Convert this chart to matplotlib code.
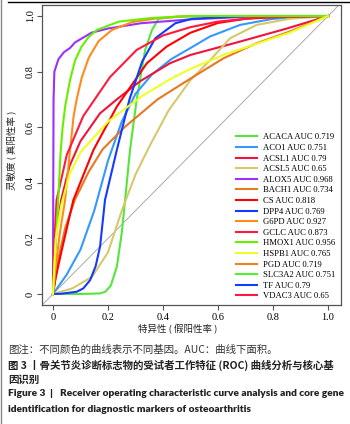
import matplotlib
matplotlib.use('Agg')
import matplotlib.pyplot as plt
from matplotlib.lines import Line2D

plt.rcParams['font.family'] = ['Liberation Serif', 'DejaVu Serif']
plt.rcParams['font.size'] = 7.5
plt.rcParams['axes.linewidth'] = 0.9

# genes in legend order
genes = ['ACACA', 'ACO1', 'ACSL1', 'ACSL5', 'ALOX5', 'BACH1', 'CS', 'DPP4',
         'G6PD', 'GCLC', 'HMOX1', 'HSPB1', 'PGD', 'SLC3A2', 'TF', 'VDAC3']
aucs = ['0.719', '0.751', '0.79', '0.65', '0.968', '0.734', '0.818', '0.769',
        '0.927', '0.873', '0.956', '0.765', '0.719', '0.751', '0.79', '0.65']
colors = ['#55E63A', '#3399FF', '#F0143C', '#D6C86C', '#9B30FF', '#E87722', '#FF0000', '#1439FF',
          '#FF8C1A', '#FF1A40', '#66F000', '#EEFF22', '#F0821E', '#55EE33', '#1040FF', '#FF1744']

# curves (fpr, tpr)
fpr_ACACA = [0, 0.10, 0.17, 0.19, 0.21, 0.232, 0.25, 0.262, 0.28, 0.304, 0.335, 0.36, 0.384, 0.45, 0.6, 1]
tpr_ACACA = [0, 0.0, 0.002, 0.008, 0.03, 0.098, 0.22, 0.338, 0.518, 0.698, 0.878, 0.95, 0.99, 0.998, 1, 1]

fpr_ACO1 = [0, 0.05, 0.10, 0.15, 0.20, 0.25, 0.30, 0.36, 0.43, 0.50, 0.57, 0.68, 0.80, 1]
tpr_ACO1 = [0, 0.07, 0.16, 0.30, 0.48, 0.62, 0.72, 0.79, 0.845, 0.885, 0.926, 0.968, 0.99, 1]

fpr_ACSL1 = [0, 0.005, 0.012, 0.03, 0.06, 0.10, 0.171, 0.232, 0.316, 0.425, 0.50, 0.68, 0.85, 1]
tpr_ACSL1 = [0, 0.12, 0.22, 0.34, 0.46, 0.55, 0.65, 0.70, 0.765, 0.83, 0.86, 0.908, 0.955, 1]

fpr_ACSL5 = [0, 0.07, 0.142, 0.20, 0.25, 0.30, 0.35, 0.42, 0.50, 0.57, 0.644, 0.74, 0.86, 1]
tpr_ACSL5 = [0, 0.02, 0.062, 0.15, 0.30, 0.43, 0.53, 0.66, 0.77, 0.84, 0.92, 0.968, 0.99, 1]

fpr_ALOX5 = [0, 0.001, 0.002, 0.005, 0.02, 0.04, 0.062, 0.08, 0.14, 0.20, 0.32, 0.50, 0.70, 1]
tpr_ALOX5 = [0, 0.40, 0.70, 0.80, 0.845, 0.87, 0.885, 0.905, 0.94, 0.955, 0.974, 0.988, 0.997, 1]

fpr_BACH1 = [0, 0.02, 0.045, 0.08, 0.13, 0.18, 0.26, 0.38, 0.50, 0.62, 0.74, 0.86, 1]
tpr_BACH1 = [0, 0.13, 0.24, 0.34, 0.44, 0.52, 0.60, 0.70, 0.775, 0.848, 0.902, 0.944, 1]

fpr_CS = [0, 0.01, 0.03, 0.074, 0.147, 0.232, 0.341, 0.413, 0.50, 0.60, 0.70, 0.85, 1]
tpr_CS = [0, 0.06, 0.15, 0.338, 0.518, 0.674, 0.83, 0.89, 0.94, 0.975, 0.99, 0.998, 1]

fpr_DPP4 = [0, 0.03, 0.086, 0.11, 0.135, 0.155, 0.171, 0.189, 0.232, 0.278, 0.324, 0.372, 0.445, 0.505, 0.70, 1]
tpr_DPP4 = [0, 0.001, 0.008, 0.02, 0.05, 0.10, 0.17, 0.338, 0.518, 0.70, 0.836, 0.92, 0.974, 0.99, 1, 1]

fpr_G6PD = [0, 0.01, 0.025, 0.044, 0.062, 0.075, 0.086, 0.105, 0.13, 0.166, 0.215, 0.287, 0.38, 0.50, 1]
tpr_G6PD = [0, 0.10, 0.22, 0.338, 0.518, 0.64, 0.70, 0.78, 0.85, 0.91, 0.95, 0.978, 0.992, 1, 1]

fpr_GCLC = [0, 0.003, 0.013, 0.05, 0.11, 0.207, 0.304, 0.40, 0.50, 0.60, 0.75, 1]
tpr_GCLC = [0, 0.15, 0.338, 0.50, 0.64, 0.78, 0.878, 0.93, 0.96, 0.98, 0.995, 1]

fpr_HMOX1 = [0, 0.005, 0.012, 0.019, 0.027, 0.035, 0.045, 0.062, 0.08, 0.104, 0.13, 0.16, 0.24, 0.36, 0.50, 1]
tpr_HMOX1 = [0, 0.10, 0.22, 0.338, 0.50, 0.60, 0.68, 0.77, 0.84, 0.89, 0.925, 0.95, 0.98, 0.993, 1, 1]

fpr_HSPB1 = [0, 0.01, 0.03, 0.06, 0.10, 0.20, 0.32, 0.43, 0.50, 0.62, 0.74, 0.86, 1]
tpr_HSPB1 = [0, 0.20, 0.32, 0.43, 0.51, 0.62, 0.71, 0.775, 0.81, 0.86, 0.90, 0.94, 1]

curves = {
    'ACACA': (fpr_ACACA, tpr_ACACA), 'ACO1': (fpr_ACO1, tpr_ACO1),
    'ACSL1': (fpr_ACSL1, tpr_ACSL1), 'ACSL5': (fpr_ACSL5, tpr_ACSL5),
    'ALOX5': (fpr_ALOX5, tpr_ALOX5), 'BACH1': (fpr_BACH1, tpr_BACH1),
    'CS': (fpr_CS, tpr_CS), 'DPP4': (fpr_DPP4, tpr_DPP4),
    'G6PD': (fpr_G6PD, tpr_G6PD), 'GCLC': (fpr_GCLC, tpr_GCLC),
    'HMOX1': (fpr_HMOX1, tpr_HMOX1), 'HSPB1': (fpr_HSPB1, tpr_HSPB1),
}

W, H = 350, 424
fig = plt.figure(figsize=(W / 100, H / 100), dpi=100)
ax = fig.add_axes([42 / W, 1 - 305 / H, 299 / W, 300 / H])

ax.axline((0, 0), (1, 1), color='#aaaaaa', lw=0.7, zorder=1)
for g, c in zip(genes, colors):
    if g in curves:
        ax.plot(curves[g][0], curves[g][1], color=c, lw=1.5, solid_joinstyle='round')

ax.set_xlim(-0.04, 1.047)
ax.set_ylim(-0.0396, 1.0396)
ticks = [0, 0.2, 0.4, 0.6, 0.8, 1.0]
tick_labels = ['0', '0.2', '0.4', '0.6', '0.8', '1.0']
ax.set_xticks(ticks)
ax.set_xticklabels(tick_labels)
ax.set_yticks(ticks)
ax.set_yticklabels(tick_labels, rotation=90, va='center')
ax.tick_params(length=3.5, width=0.8, color='#555555', labelsize=7.5, pad=1.5)
ax.tick_params(axis='x', pad=2)
for s in ax.spines.values():
    s.set_color('#555555')

handles = [Line2D([], [], color=c, lw=1.5) for c in colors]
labels = [g + ' AUC ' + a for g, a in zip(genes, aucs)]
ax.legend(handles, labels, loc='lower right', bbox_to_anchor=(0.98, 0.015),
          frameon=False, fontsize=6.2, labelspacing=0.3, handlelength=2.4,
          handletextpad=0.7, borderaxespad=0, borderpad=0)

cjk = ['Noto Sans CJK SC', 'DejaVu Sans']
fig.text(178 / W, 1 - 329 / H, '特异性 ( 假阳性率 )', family=cjk, fontsize=6.8,
         ha='center', va='center', color='#222222')
fig.text(12 / W, 1 - 150 / H, '灵敏度 ( 真阳性率 )', family=cjk, fontsize=6.8,
         ha='center', va='center', rotation=90, color='#222222')

# caption
fig.text(8 / W, 1 - 350 / H, '图注：不同颜色的曲线表示不同基因。AUC：曲线下面积。',
         family=cjk, fontsize=7.5, va='center', color='#333333')
fig.text(8 / W, 1 - 365 / H, '图 3 丨骨关节炎诊断标志物的受试者工作特征 (ROC) 曲线分析与核心基',
         family=cjk, fontsize=7.5, va='center', weight='bold', color='#222222')
fig.text(8 / W, 1 - 380 / H, '因识别', family=cjk, fontsize=7.5, va='center',
         weight='bold', color='#222222')
fig.text(8 / W, 1 - 394 / H, 'Figure 3  |   Receiver operating characteristic curve analysis and core gene',
         family=['Lato', 'DejaVu Sans'], fontsize=7.3, va='center', weight='heavy', color='#222222')
fig.text(8 / W, 1 - 409 / H, 'identification for diagnostic markers of osteoarthritis',
         family=['Lato', 'DejaVu Sans'], fontsize=7.3, va='center', weight='heavy', color='#222222')

# page border lines
fig.add_artist(Line2D([8 / W, 1], [1 - 1.5 / H, 1 - 1.5 / H], color='black', lw=1.0))
fig.add_artist(Line2D([1 / W, 1 / W], [0, 1], color='#888888', lw=1.0))

fig.savefig('out.png', dpi=100)
